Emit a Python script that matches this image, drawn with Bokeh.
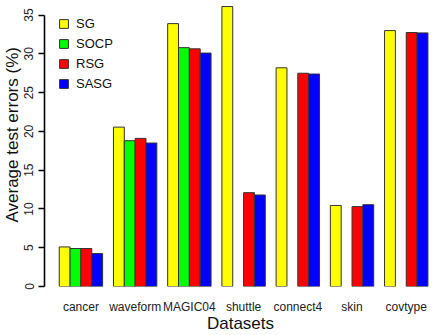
from bokeh.plotting import figure
from bokeh.models import Range1d, FixedTicker, Legend, LegendItem, ColumnDataSource, Title
from bokeh.embed import file_html
from bokeh.resources import INLINE

# Average test errors (%) per dataset and method
datasets = ["cancer", "waveform", "MAGIC04", "shuttle", "connect4", "skin", "covtype"]
methods = ["SG", "SOCP", "RSG", "SASG"]
sg = [5.1, 20.55, 33.9, 36.1, 28.2, 10.45, 33.0]
socp = [4.9, 18.8, 30.8, None, None, None, None]   # SOCP not run on the large sets
rsg = [4.9, 19.1, 30.65, 12.1, 27.5, 10.3, 32.75]
sasg = [4.25, 18.5, 30.1, 11.8, 27.4, 10.55, 32.7]
y_ticks = [0, 5, 10, 15, 20, 25, 30, 35]

series = [sg, socp, rsg, sasg]
colors = ["#FFFF00", "#00FF00", "#FF0000", "#0000FF"]
FONT = "Liberation Sans"

# grouped layout: bars of width 1, one empty slot between groups
n_methods = len(methods)
group_step = n_methods + 1

p = figure(width=436, height=335, output_backend="svg", toolbar_location=None,
           x_range=Range1d(-0.36, 35.79), y_range=Range1d(0, 36.88),
           min_border_left=43, min_border_right=0, min_border_top=0,
           min_border_bottom=49)
p.outline_line_color = None
p.xgrid.visible = False
p.ygrid.visible = False
p.background_fill_color = "white"
p.border_fill_color = "white"

items = []
for j, (name, vals, col) in enumerate(zip(methods, series, colors)):
    xs, tops = [], []
    for i, v in enumerate(vals):
        if v is None:
            continue
        xs.append(1 + group_step * i + j + 0.5)
        tops.append(v)
    src = ColumnDataSource(dict(x=xs, top=tops))
    r = p.vbar(x="x", top="top", bottom=0, width=1, source=src,
               fill_color=col, line_color="#333333", line_width=1)
    items.append(LegendItem(label=name, renderers=[r]))

# legend anchored by its lower-left corner, in pixels from the frame's lower-left
legend = Legend(items=items, location=(14, 195), border_line_color=None,
                background_fill_alpha=0, padding=0, margin=0,
                glyph_width=11, glyph_height=11, label_height=11, spacing=5,
                label_standoff=7, label_text_font=FONT, label_text_font_size="13px",
                label_text_color="#111111")
p.add_layout(legend, "center")

# y axis in the classic style: line only over the tick span, rotated labels
ya = p.yaxis[0]
ya.bounds = (0, 35)
ya.ticker = FixedTicker(ticks=y_ticks)
ya.minor_tick_line_color = None
ya.major_tick_out = 6
ya.major_tick_in = 0
ya.axis_line_width = 1.6
ya.major_tick_line_width = 1.6
ya.major_label_orientation = "vertical"
ya.major_label_standoff = 5
ya.major_label_text_font = FONT
ya.major_label_text_font_size = "12px"
ya.major_label_text_color = "#222222"

# y title in the outer left panel, starting a little above the frame bottom
p.add_layout(Title(text="Average test errors (%)", align="left", offset=64,
                   standoff=0, text_font=FONT, text_font_size="17px",
                   text_font_style="normal", text_color="#111111"), "left")

# x axis: dataset names under each group, no line or ticks
xa = p.xaxis[0]
centers = [1 + group_step * i + n_methods / 2 for i in range(len(datasets))]
xa.ticker = FixedTicker(ticks=centers)
xa.major_label_overrides = {c: d for c, d in zip(centers, datasets)}
xa.axis_line_color = None
xa.major_tick_line_color = None
xa.minor_tick_line_color = None
xa.major_tick_out = 0
xa.major_label_standoff = 13
xa.major_label_text_font = FONT
xa.major_label_text_font_size = "12px"
xa.major_label_text_color = "#222222"
xa.axis_label = "Datasets"
xa.axis_label_text_font = FONT
xa.axis_label_text_font_size = "17px"
xa.axis_label_text_font_style = "normal"
xa.axis_label_text_color = "#111111"
xa.axis_label_standoff = -3

open("out.html", "w").write(file_html(p, INLINE))
